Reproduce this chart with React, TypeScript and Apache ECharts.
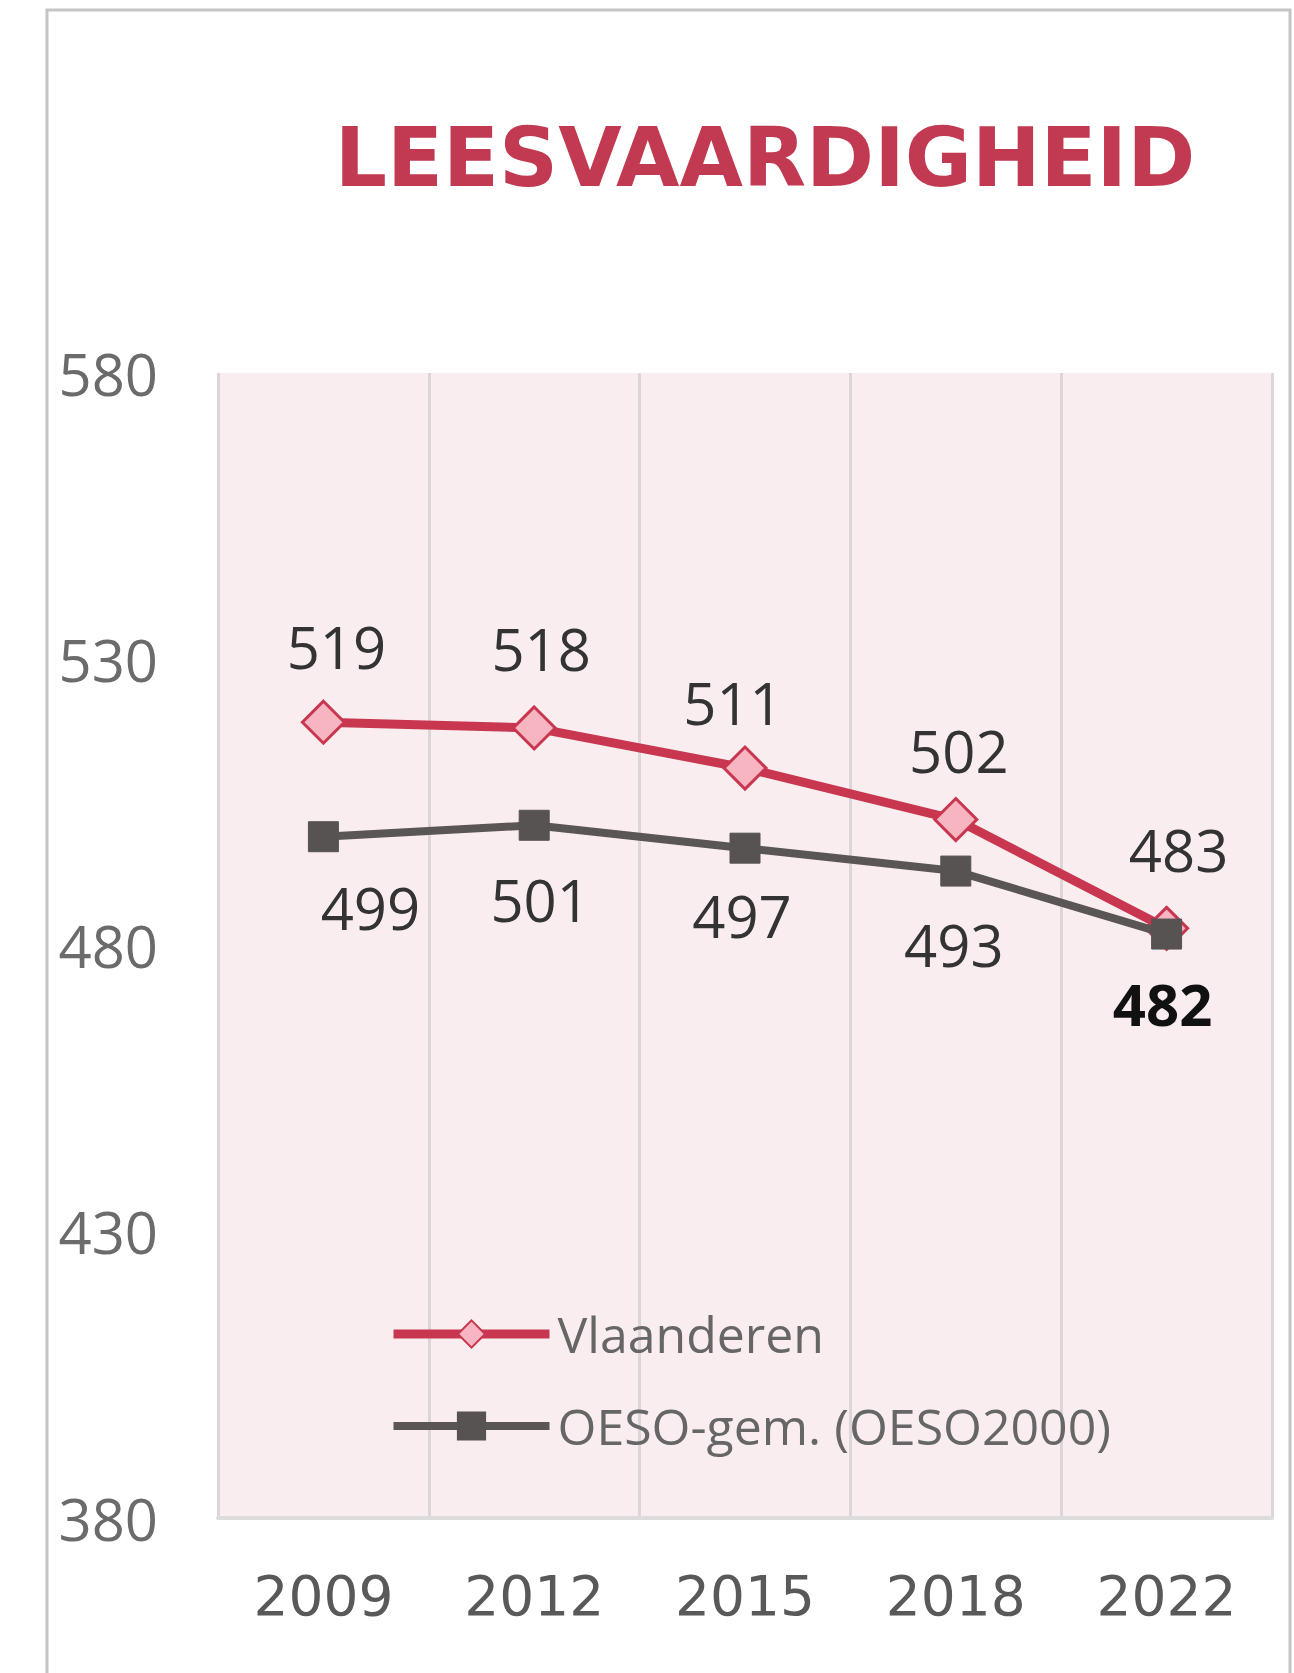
import React, { useEffect, useRef } from "react";
import * as echarts from "echarts";

const years = ["2009", "2012", "2015", "2018", "2022"];
const vlaanderen = [519, 518, 511, 502, 483];
const oeso = [499, 501, 497, 493, 482];
const yTicks = [380, 430, 480, 530, 580];
const seriesNames = ["Vlaanderen", "OESO-gem. (OESO2000)"];
const titleText = "LEESVAARDIGHEID";

// label nudges (style only)
const vlNudge = [[13, -2], [7, -6], [-12, 8], [3, 4], [12, -5]];
const oeNudge = [[47, -1], [6, 3], [-3, -4], [-2, 2], [-4, -2]];

export default function App() {
  const ref = useRef<HTMLDivElement>(null);
  useEffect(() => {
    document.body.style.margin = "0";
    const chart = echarts.init(ref.current!, null, { renderer: "svg" });
    const labelBase = {
      show: true,
      fontFamily: "Open Sans",
      fontSize: 58,
      color: "#333333",
    };
    chart.setOption({
      animation: false,
      backgroundColor: "#ffffff",
      title: {
        text: titleText,
        left: 760,
        top: 152,
        textAlign: "center",
        textVerticalAlign: "middle",
        textStyle: {
          fontFamily: "DejaVu Sans",
          fontWeight: "bold",
          fontSize: 82,
          color: "#C23A52",
        },
      },
      graphic: [
        {
          type: "rect",
          shape: { x: 47, y: 10, width: 1243, height: 1720 },
          style: { fill: "none", stroke: "#c4c4c4", lineWidth: 3 },
          silent: true,
          z: -1,
        },
      ],
      legend: {
        orient: "vertical",
        left: 384,
        top: 1304,
        itemWidth: 156,
        itemHeight: 34,
        itemGap: 42,
        data: [
          { name: seriesNames[0], lineStyle: { width: 9 } },
          { name: seriesNames[1], lineStyle: { width: 8 } },
        ],
        textStyle: {
          fontFamily: "Open Sans",
          fontSize: 50,
          color: "#666666",
          padding: [0, 0, 0, 3],
        },
      },
      grid: {
        left: 218,
        right: 22,
        top: 373,
        bottom: 155,
        show: true,
        backgroundColor: "#FAEDF0",
        borderWidth: 0,
      },
      xAxis: {
        type: "category",
        data: years,
        boundaryGap: true,
        axisLine: { show: true, lineStyle: { color: "#DCDCDC", width: 4 } },
        axisTick: { show: false },
        splitLine: { show: true, lineStyle: { color: "#DDD6D8", width: 3 } },
        axisLabel: {
          margin: 50,
          fontFamily: "DejaVu Sans",
          fontSize: 55,
          color: "#595959",
        },
      },
      yAxis: {
        type: "value",
        min: 380,
        max: 580,
        interval: 10,
        axisLine: { show: false },
        axisTick: { show: false },
        splitLine: { show: false },
        axisLabel: {
          margin: 60,
          fontFamily: "Open Sans",
          fontSize: 58,
          color: "#6b6b6b",
          formatter: (v: number) => (yTicks.includes(v) ? String(v) : ""),
        },
      },
      series: [
        {
          name: seriesNames[0],
          type: "line",
          data: vlaanderen.map((v, i) => ({
            value: v,
            label: { offset: vlNudge[i] },
          })),
          symbol: "diamond",
          symbolSize: 42,
          z: 3,
          lineStyle: { color: "#C8374F", width: 9 },
          itemStyle: { color: "#F6B5C1", borderColor: "#C8374F", borderWidth: 3 },
          label: { ...labelBase, position: "top", distance: 22 },
        },
        {
          name: seriesNames[1],
          type: "line",
          data: oeso.map((v, i) => ({
            value: v,
            label:
              i === oeso.length - 1
                ? { offset: oeNudge[i], fontWeight: "bold", color: "#111111" }
                : { offset: oeNudge[i] },
          })),
          symbol: "rect",
          symbolSize: 30,
          z: 4,
          lineStyle: { color: "#5B5656", width: 8 },
          itemStyle: { color: "#585353", borderColor: "#585353", borderWidth: 1 },
          label: { ...labelBase, position: "bottom", distance: 27 },
        },
      ],
    });
    return () => chart.dispose();
  }, []);
  return <div ref={ref} style={{ width: 1294, height: 1673 }} />;
}
